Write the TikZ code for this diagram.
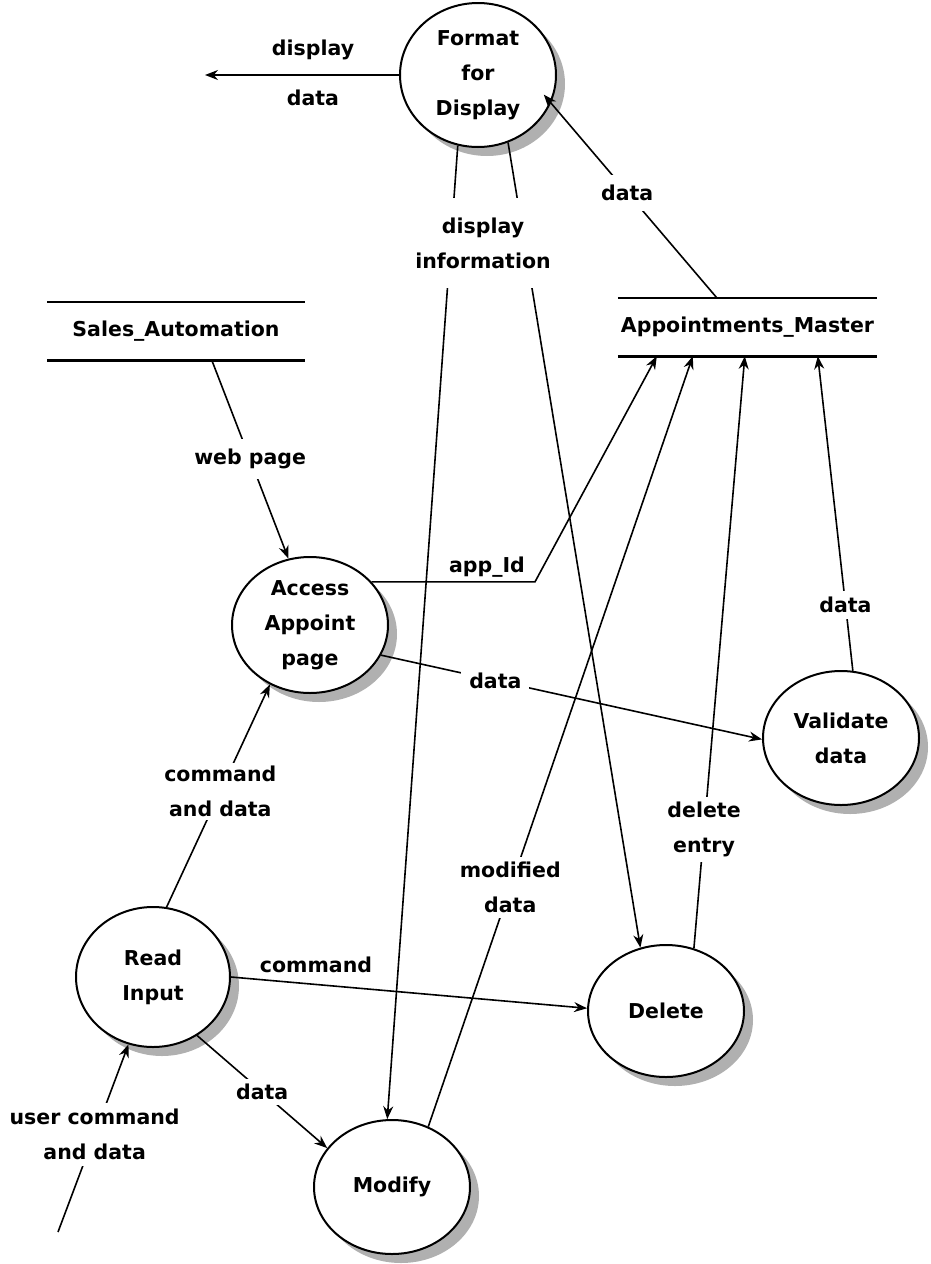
\documentclass[tikz,border=0pt]{standalone}
\usepackage{fontspec}
\setmainfont{DejaVu Sans}
\usetikzlibrary{shapes.geometric,arrows.meta,shadows}
\begin{document}
\begin{tikzpicture}[x=1pt,y=-1pt,
  txt/.style={font=\fontsize{20.5}{35}\selectfont\bfseries, align=center},
  proc/.style={txt, ellipse, draw, line width=2pt, fill=white, inner sep=0pt,
    minimum width=156pt, minimum height=136pt,
    drop shadow={shadow xshift=9pt, shadow yshift=-9pt, fill=gray!62, opacity=1}},
  store/.style={txt, minimum height=58pt, inner sep=0pt},
  storeline/.style={line width=2.6pt},
  flow/.style={line width=1.6pt, -{Stealth[length=13pt,width=10pt]}},
  lbl/.style={txt, fill=white, inner xsep=4pt, inner ysep=7pt},
  tag/.style={txt, inner sep=0pt}]

\useasboundingbox (0,0) rectangle (930,1264);

% processes
\node[proc, minimum height=144pt] (fmt) at (478,75) {Format\\for\\Display};
\node[proc] (acc) at (310,625) {Access\\Appoint\\page};
\node[proc, minimum height=134pt] (val) at (841,738) {Validate\\data};
\node[proc, minimum width=154pt, minimum height=140pt] (rd) at (153,977) {Read\\Input};
\node[proc, minimum height=134pt] (mod) at (392,1187) {Modify};
\node[proc, minimum height=132pt] (del) at (666,1011) {Delete};

% data stores
\node[store, minimum width=257pt] (sa) at (176,331) {Sales\_Automation};
\node[store, minimum width=259pt] (am) at (747.5,327) {Appointments\_Master};
\draw[storeline] (sa.north west) -- (sa.north east) (sa.south west) -- (sa.south east);
\draw[storeline] (am.north west) -- (am.north east) (am.south west) -- (am.south east);

% output of the formatter
\coordinate (dispout) at (205,75);
\draw[flow] (fmt.180) -- (dispout);
\node[tag] (tdisp) at (313,50) {display};
\node[tag] (tdata) at (313,98) {data};

\draw[flow, shorten >=-11pt] ([xshift=99pt]am.north west) -- node[lbl, pos=0.54, inner ysep=10pt] {data} (fmt.339);

\draw[flow] (fmt.254) -- (mod.94);
\draw[flow] (fmt.294) -- (del.112);
\node[lbl, inner ysep=20pt] (tinfo) at (483,243) {display\\information};

% access page
\draw[flow] ([xshift=164.5pt]sa.south west) -- node[lbl, pos=0.5, inner ysep=10pt] {web page} (acc.108);
\coordinate (bx) at (535,0);
\draw[flow] (acc.35) -- (acc.35 -| bx) -- ([xshift=39pt]am.south west);
\node[tag] (tapp) at (487,567) {app\_Id};
\draw[flow] (acc.337) -- node[lbl, pos=0.3, inner ysep=3pt, inner xsep=8pt] {data} (val.181);

% read input
\draw[flow] (rd.79) -- node[lbl, pos=0.52, inner ysep=3pt] {command\\and data} (acc.236);
\draw[flow] (rd.0) -- (del.178);
\node[tag] (tcmd) at (316,965) {command};
\draw[flow] (rd.307) -- node[lbl, pos=0.5, inner ysep=5pt] {data} (mod.149);
\coordinate (user) at (58,1232);
\draw[flow] (user) -- node[lbl, pos=0.52, inner ysep=6pt] {user command\\and data} (rd.250);

% updates of the master file
\draw[flow] (mod.59) -- node[lbl, pos=0.31, inner ysep=5pt] {modified\\data} ([xshift=75pt]am.south west);
\draw[flow] (del.66) -- node[lbl, pos=0.2, inner ysep=5pt] {delete\\entry} ([xshift=127pt]am.south west);
\draw[flow] (val.80) -- node[lbl, pos=0.21, inner ysep=6pt] {data} ([xshift=200pt]am.south west);
\end{tikzpicture}
\end{document}
